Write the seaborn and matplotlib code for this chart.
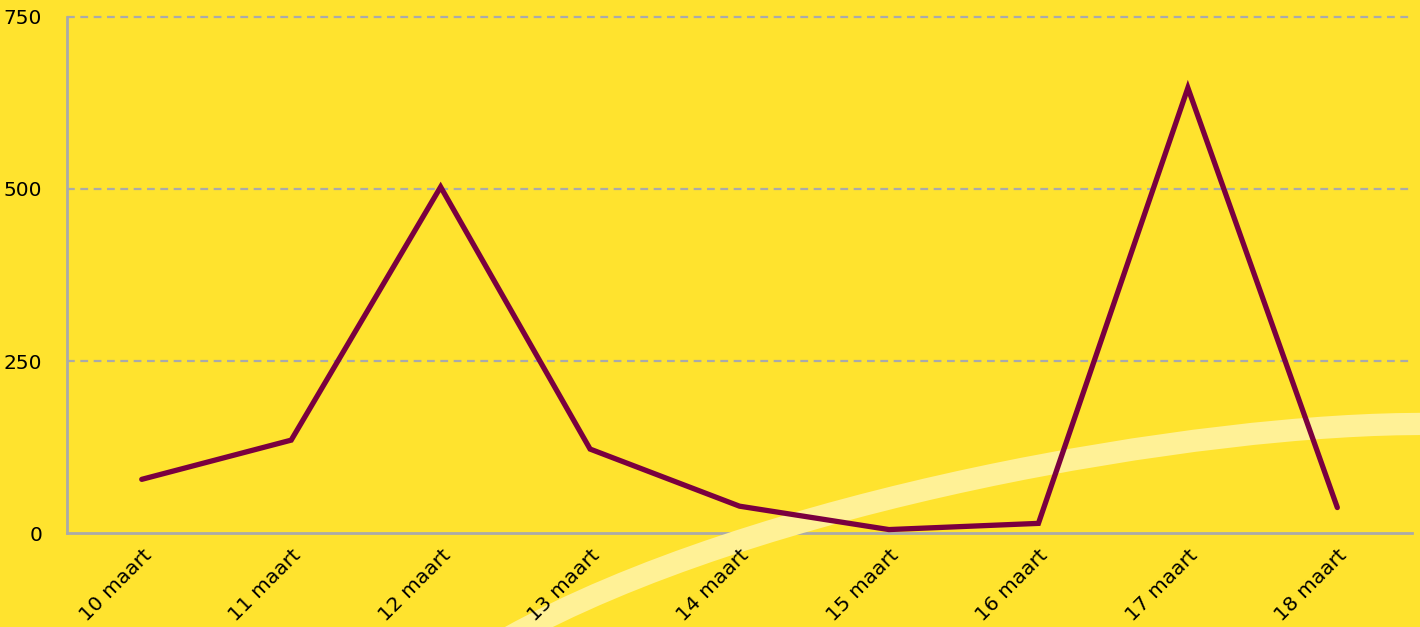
import matplotlib
matplotlib.use("Agg")
import matplotlib.pyplot as plt
import seaborn as sns
import pandas as pd
from matplotlib.path import Path
from matplotlib.patches import PathPatch

# chart data
dates = ["10 maart", "11 maart", "12 maart", "13 maart", "14 maart",
         "15 maart", "16 maart", "17 maart", "18 maart"]
values = [78, 135, 503, 122, 39, 5, 14, 647, 37]
y_ticks = [0, 250, 500, 750]

bg = "#FFE32E"
line_color = "#7A003F"
band_color = "#FFF196"
grid_color = "#AAAAAA"

sns.set_style("white")
plt.rcParams["font.family"] = ["DejaVu Sans"]

df = pd.DataFrame({"date": dates, "value": values})

fig = plt.figure(figsize=(14.2, 6.27), dpi=100, facecolor=bg)
ax = fig.add_axes([0.0472, 0.1499, 0.9472, 0.8230])
ax.set_facecolor(bg)

ax.set_ylim(0, 750)
ax.set_yticks(y_ticks)
for t in y_ticks[1:]:
    ax.axhline(t, color=grid_color, lw=1.6, ls=(0, (3.5, 2.5)), zorder=1,
               clip_on=False)

sns.lineplot(data=df, x="date", y="value", sort=False, color=line_color,
             lw=3.8, solid_capstyle="round", solid_joinstyle="miter",
             ax=ax, zorder=4)
ax.set_xlim(-0.5, len(dates) - 0.5)

# decorative pale swoosh behind the line
W, H = 1420.0, 627.0
pts = [(508, 638), (755, 500), (1200, 422), (1430, 424)]
verts = [(x / W, 1 - y / H) for x, y in pts]
swoosh = Path(verts, [Path.MOVETO, Path.CURVE4, Path.CURVE4, Path.CURVE4])
ax.add_artist(PathPatch(swoosh, facecolor="none", edgecolor=band_color, lw=16,
                        transform=fig.transFigure, clip_on=False, zorder=2.7))

for side in ["top", "right"]:
    ax.spines[side].set_visible(False)
for side in ["left", "bottom"]:
    ax.spines[side].set_color(grid_color)
    ax.spines[side].set_linewidth(2)
    ax.spines[side].set_zorder(2.5)

ax.set_xlabel("")
ax.set_ylabel("")
ax.tick_params(axis="both", length=0, labelsize=14.5, colors="black")
ax.tick_params(axis="y", pad=18)
ax.tick_params(axis="x", pad=9)
for lab in ax.get_xticklabels():
    lab.set_rotation(45)
    lab.set_ha("right")
    lab.set_rotation_mode("anchor")
ax.xaxis.set_zorder(5)

fig.savefig("out.png", dpi=100, facecolor=bg)
